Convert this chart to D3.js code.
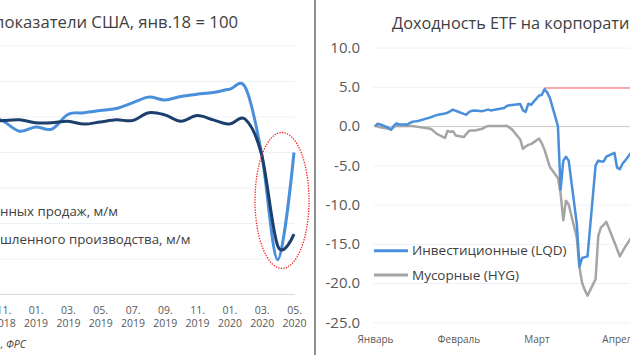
<!DOCTYPE html>
<html><head><meta charset="utf-8">
<script src="https://cdn.jsdelivr.net/npm/d3@7"></script>
<style>
body{margin:0;background:#fff;overflow:hidden}
svg{display:block}
text{font-family:"Open Sans",sans-serif}
</style>
</head><body>
<svg id="c" width="630" height="355"></svg>
<script>
// ---------- LEFT PANEL DATA ----------
const leftAxisMonths = ["2018-01","2018-02","2018-03","2018-04","2018-05","2018-06","2018-07","2018-08","2018-09","2018-10","2018-11","2018-12",
  "2019-01","2019-02","2019-03","2019-04","2019-05","2019-06","2019-07","2019-08","2019-09","2019-10","2019-11","2019-12",
  "2020-01","2020-02","2020-03","2020-04","2020-05"];
const leftTickMonths = ["2018-11","2019-01","2019-03","2019-05","2019-07","2019-09","2019-11","2020-01","2020-03","2020-05"];
const leftDataMonths = ["2018-09","2018-10","2018-11","2018-12","2019-01","2019-02","2019-03","2019-04","2019-05","2019-06","2019-07","2019-08","2019-09","2019-10","2019-11","2019-12","2020-01","2020-02","2020-03","2020-04","2020-05"];
const retailSales = [100.8,100.3,99.4,98.0,98.6,98.3,100.35,100.6,100.9,101.2,102.0,102.8,102.4,102.9,103.2,103.45,103.9,104.1,94.8,79.9,95.0];
const industrialProduction = [99.5,99.4,99.5,99.6,99.2,99.2,99.4,99.0,99.3,99.6,99.5,100.6,100.3,99.4,100.2,99.6,99.0,99.65,94.65,81.8,83.5];
const leftGridValues = [75,80,85,90,95,100,105,110];
const leftTitle = "показатели США, янв.18 = 100";
const leftLegend = ["нных продаж, м/м","шленного производства, м/м"];
const leftSource = ", ФРС";

// ---------- RIGHT PANEL DATA ----------
const etfDates = ["2020-01-01","2020-01-02","2020-01-03","2020-01-06","2020-01-07","2020-01-08","2020-01-09","2020-01-10","2020-01-13","2020-01-14","2020-01-15","2020-01-16","2020-01-17","2020-01-21","2020-01-22","2020-01-23","2020-01-24","2020-01-27","2020-01-28","2020-01-29","2020-01-30","2020-01-31",
  "2020-02-03","2020-02-04","2020-02-05","2020-02-06","2020-02-07","2020-02-10","2020-02-11","2020-02-12","2020-02-13","2020-02-14","2020-02-18","2020-02-19","2020-02-20","2020-02-21","2020-02-24","2020-02-25","2020-02-26","2020-02-27","2020-02-28",
  "2020-03-02","2020-03-03","2020-03-04","2020-03-05","2020-03-06","2020-03-09","2020-03-10","2020-03-11","2020-03-12","2020-03-13","2020-03-16","2020-03-17","2020-03-18","2020-03-19","2020-03-20","2020-03-23","2020-03-24","2020-03-25","2020-03-26","2020-03-27","2020-03-30","2020-03-31",
  "2020-04-01","2020-04-02","2020-04-03","2020-04-06"];
const lqdReturn = [0.0,0.3,0.2,-0.2,-0.45,0.05,0.35,0.2,0.2,0.4,0.55,0.6,0.65,1.05,1.15,1.3,1.4,1.6,1.7,1.9,2.1,1.95,
  1.55,1.45,1.8,1.95,2.0,1.9,2.0,2.1,2.0,2.05,2.3,2.55,2.65,2.7,2.8,2.0,1.8,2.85,2.7,
  3.9,3.95,4.7,4.3,3.6,0.0,-8.1,-4.4,-3.9,-4.4,-12.4,-17.9,-16.8,-16.7,-16.6,-5.0,-4.4,-4.5,-4.5,-3.9,-3.4,-5.3,
  -5.5,-4.8,-4.4,-3.0];
const hygReturn = [0.0,-0.05,-0.15,-0.35,-0.45,-0.1,0.0,0.0,0.0,0.0,0.0,-0.05,-0.1,-0.3,-0.4,-0.7,-1.0,-1.5,-0.6,-0.75,-0.65,-1.2,
  -1.4,-1.0,-0.6,-0.55,-0.55,-0.35,-0.1,0.0,0.0,0.0,0.0,0.05,-0.2,-0.45,-1.7,-2.9,-2.6,-2.4,-2.3,
  -1.6,-2.2,-3.0,-4.1,-5.2,-6.6,-8.6,-12.0,-9.5,-10.0,-14.2,-18.0,-20.0,-20.9,-21.6,-19.5,-14.0,-12.9,-12.6,-12.2,-14.8,-15.7,
  -16.6,-16.0,-15.4,-13.8];
const rightTicks = [10,5,0,-5,-10,-15,-20,-25];
const rightMonthTicks = ["2020-01-01","2020-02-01","2020-03-01","2020-04-01"];
const rightMonthLabels = ["Январь","Февраль","Март","Апрель"];
const rightTitle = "Доходность ETF на корпорати";
const seriesNames = ["Инвестиционные (LQD)","Мусорные (HYG)"];
const peakLevel = 4.85, peakDate = "2020-03-04";

// ---------- DRAW ----------
const svg = d3.select("#c");
svg.append("rect").attr("width",630).attr("height",355).attr("fill","#fff");

// LEFT
const L = svg.append("g");
const xL = d3.scalePoint().domain(leftAxisMonths).range([294 - 28*16.15, 294]);
const yL = d3.scaleLinear().domain([75,110]).range([294.5,46]);

L.append("g").selectAll("line").data(leftGridValues).join("line")
  .attr("x1",0).attr("x2",295).attr("y1",d=>yL(d)).attr("y2",d=>yL(d))
  .attr("stroke",d=>d===75?"#d9d9d9":"#eef1f7").attr("stroke-width",1);

L.append("text").attr("x",238).attr("y",28).attr("text-anchor","end")
  .attr("font-size",16.7).attr("fill","#404040").text(leftTitle);

const lineL = d3.line().x((d,i)=>xL(leftDataMonths[i])).y(d=>yL(d)).curve(d3.curveCardinal.tension(0));
L.append("path").datum(retailSales).attr("d",lineL).attr("fill","none")
  .attr("stroke","#4a8fdb").attr("stroke-width",3);
L.append("path").datum(industrialProduction).attr("d",lineL).attr("fill","none")
  .attr("stroke","#1d3f6e").attr("stroke-width",3);

L.append("ellipse").attr("cx",282).attr("cy",200.5).attr("rx",27).attr("ry",68)
  .attr("fill","none").attr("stroke","#ff1a1a").attr("stroke-width",1.3).attr("stroke-dasharray","1.3,1.3");

L.append("text").attr("x",0).attr("y",215.5).attr("font-size",13.3).attr("fill","#404040").text(leftLegend[0]);
L.append("text").attr("x",0).attr("y",244).attr("font-size",13.3).attr("fill","#404040").text(leftLegend[1]);

const xAxL = L.append("g").attr("transform","translate(0,294.5)")
  .call(d3.axisBottom(xL).tickValues(leftTickMonths).tickSize(0).tickFormat(""));
xAxL.select(".domain").remove();
xAxL.selectAll(".tick text").remove();
xAxL.selectAll(".tick").each(function(m){
  const t = d3.select(this).append("text").attr("text-anchor","middle").attr("fill","#595959")
    .attr("font-size",10.5);
  t.append("tspan").attr("x",0).attr("y",19.5).text(m.slice(5)+".");
  t.append("tspan").attr("x",0).attr("y",32.5).text(m.slice(0,4));
});

L.append("text").attr("x",26).attr("y",348).attr("text-anchor","end").attr("font-size",10.5)
  .attr("font-style","italic").attr("fill","#404040").text(leftSource);

// separator
svg.append("rect").attr("x",314).attr("y",0).attr("width",2).attr("height",355).attr("fill","#8f8f8f");

// RIGHT
const R = svg.append("g");
const parse = d3.timeParse("%Y-%m-%d");
const xR = d3.scaleTime().domain([parse("2020-01-01"),parse("2020-04-01")]).range([375,619.8]);
const yR = d3.scaleLinear().domain([-25,10]).range([322.3,47.6]);

const yAx = R.append("g").attr("transform","translate(373,0)")
  .call(d3.axisLeft(yR).tickValues(rightTicks).tickSize(-257).tickPadding(13).tickFormat(d=>d.toFixed(1)));
yAx.select(".domain").remove();
yAx.selectAll(".tick line").attr("stroke",d=>d===0?"#c9c9c9":"#eef1f7");
yAx.selectAll(".tick text").attr("font-size",15).attr("fill","#595959").attr("font-family","Open Sans");

const xAx = R.append("g").attr("transform","translate(0,322.3)")
  .call(d3.axisBottom(xR).tickValues(rightMonthTicks.map(parse)).tickSize(0).tickPadding(14)
    .tickFormat((d,i)=>rightMonthLabels[i]));
xAx.select(".domain").remove();
xAx.selectAll(".tick text").attr("font-size",10).attr("fill","#595959").attr("font-family","Open Sans");

R.append("text").attr("x",392).attr("y",29).attr("font-size",16.3).attr("fill","#404040").text(rightTitle);

R.append("line").attr("x1",xR(parse(peakDate))).attr("x2",630)
  .attr("y1",yR(peakLevel)).attr("y2",yR(peakLevel)).attr("stroke","#ff5a5a").attr("stroke-width",1);

const lineR = vals => d3.line().x((d,i)=>xR(parse(etfDates[i]))).y(d=>yR(d))(vals);
R.append("path").attr("d",lineR(hygReturn)).attr("fill","none").attr("stroke","#a5a5a5")
  .attr("stroke-width",2.5).attr("stroke-linejoin","round");
R.append("path").attr("d",lineR(lqdReturn)).attr("fill","none").attr("stroke","#4a8fdb")
  .attr("stroke-width",2.5).attr("stroke-linejoin","round");

const legColors = ["#4a8fdb","#a5a5a5"];
const legY = [250.7,275];
seriesNames.forEach((n,i)=>{
  R.append("line").attr("x1",374).attr("x2",408).attr("y1",legY[i]).attr("y2",legY[i])
    .attr("stroke",legColors[i]).attr("stroke-width",3);
  R.append("text").attr("x",412).attr("y",legY[i]).attr("dy","0.35em").attr("font-size",13.5)
    .attr("fill","#404040").text(n);
});
</script>
</body></html>
